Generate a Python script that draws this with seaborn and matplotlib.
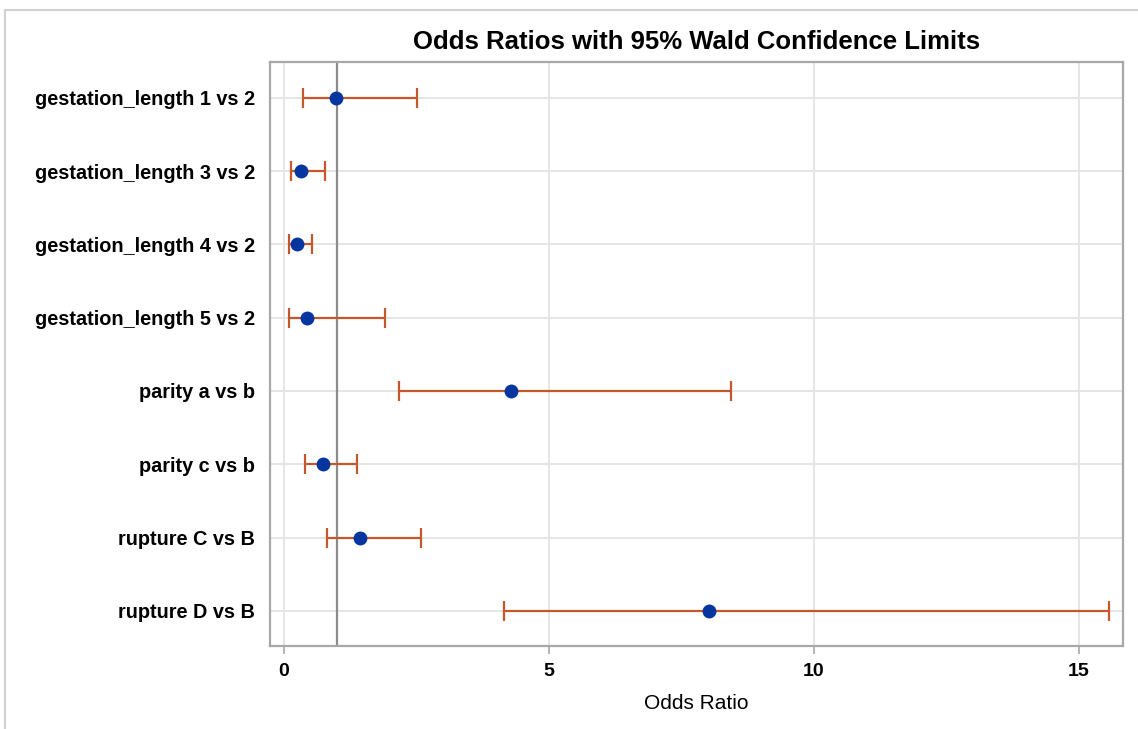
import numpy as np
import pandas as pd
import seaborn as sns
import matplotlib.pyplot as plt
from matplotlib.lines import Line2D

# values
effects = ["gestation_length 1 vs 2", "gestation_length 3 vs 2",
           "gestation_length 4 vs 2", "gestation_length 5 vs 2",
           "parity a vs b", "parity c vs b", "rupture C vs B", "rupture D vs B"]
odds_ratio = [0.98, 0.33, 0.24, 0.44, 4.28, 0.74, 1.44, 8.02]
lower_cl = [0.36, 0.13, 0.10, 0.10, 2.18, 0.40, 0.81, 4.15]
upper_cl = [2.51, 0.77, 0.54, 1.91, 8.43, 1.38, 2.58, 15.57]
x_ticks = [0, 5, 10, 15]

df = pd.DataFrame({"Effect": effects, "OR": odds_ratio,
                   "lo": lower_cl, "hi": upper_cl})

sns.set_style("whitegrid")
plt.rcParams["font.family"] = ["Liberation Sans", "DejaVu Sans"]
plt.rcParams["text.color"] = "black"
plt.rcParams["axes.labelcolor"] = "black"
plt.rcParams["xtick.color"] = "black"
plt.rcParams["ytick.color"] = "black"

fig = plt.figure(figsize=(11.38, 7.29), dpi=100)
ax = fig.add_axes([0.2373, 0.1139, 0.7495, 0.8011])

ypos = np.arange(len(df))
err = [df["OR"] - df["lo"], df["hi"] - df["OR"]]
ax.errorbar(df["OR"], ypos, xerr=err, fmt="none", ecolor="#c4582c",
            elinewidth=1.6, capsize=7, capthick=1.6, zorder=3)
sns.scatterplot(data=df, x="OR", y="Effect", ax=ax, color="#0536a0",
                s=100, marker="o", edgecolor="#0536a0", linewidth=0,
                zorder=4)
ax.axvline(1, color="#8c8c8c", lw=1.6, zorder=2)

ax.set_xlim(-0.26, 15.83)
ax.set_ylim(7.48, -0.49)
ax.set_xticks(x_ticks)
ax.set_yticks(ypos)
ax.set_yticklabels(effects)
ax.grid(True, color="#e3e3e3", lw=1.3)
ax.set_axisbelow(True)
for s in ax.spines.values():
    s.set_color("#a8a8a8")
    s.set_linewidth(1.6)

ax.tick_params(axis="x", length=6, width=1.2, color="#a8a8a8", labelsize=14,
               labelcolor="black", pad=6, direction="out", bottom=True)
ax.tick_params(axis="y", length=0, labelsize=14.3, labelcolor="black", pad=11)
for t in ax.get_xticklabels() + ax.get_yticklabels():
    t.set_fontweight("bold")

ax.set_xlabel("Odds Ratio", fontsize=15, labelpad=10, color="black")
ax.set_ylabel("")
ax.set_title("Odds Ratios with 95% Wald Confidence Limits", fontsize=18.5,
             fontweight="bold", pad=9, color="black")

# light outer border of the graph
fig.add_artist(Line2D([5 / 1138, 5 / 1138], [0, 1 - 10 / 729],
                      transform=fig.transFigure, color="#d0d0d0", lw=1.5))
fig.add_artist(Line2D([5 / 1138, 1], [1 - 10 / 729, 1 - 10 / 729],
                      transform=fig.transFigure, color="#d0d0d0", lw=1.5))

fig.savefig("out.png", dpi=100)
